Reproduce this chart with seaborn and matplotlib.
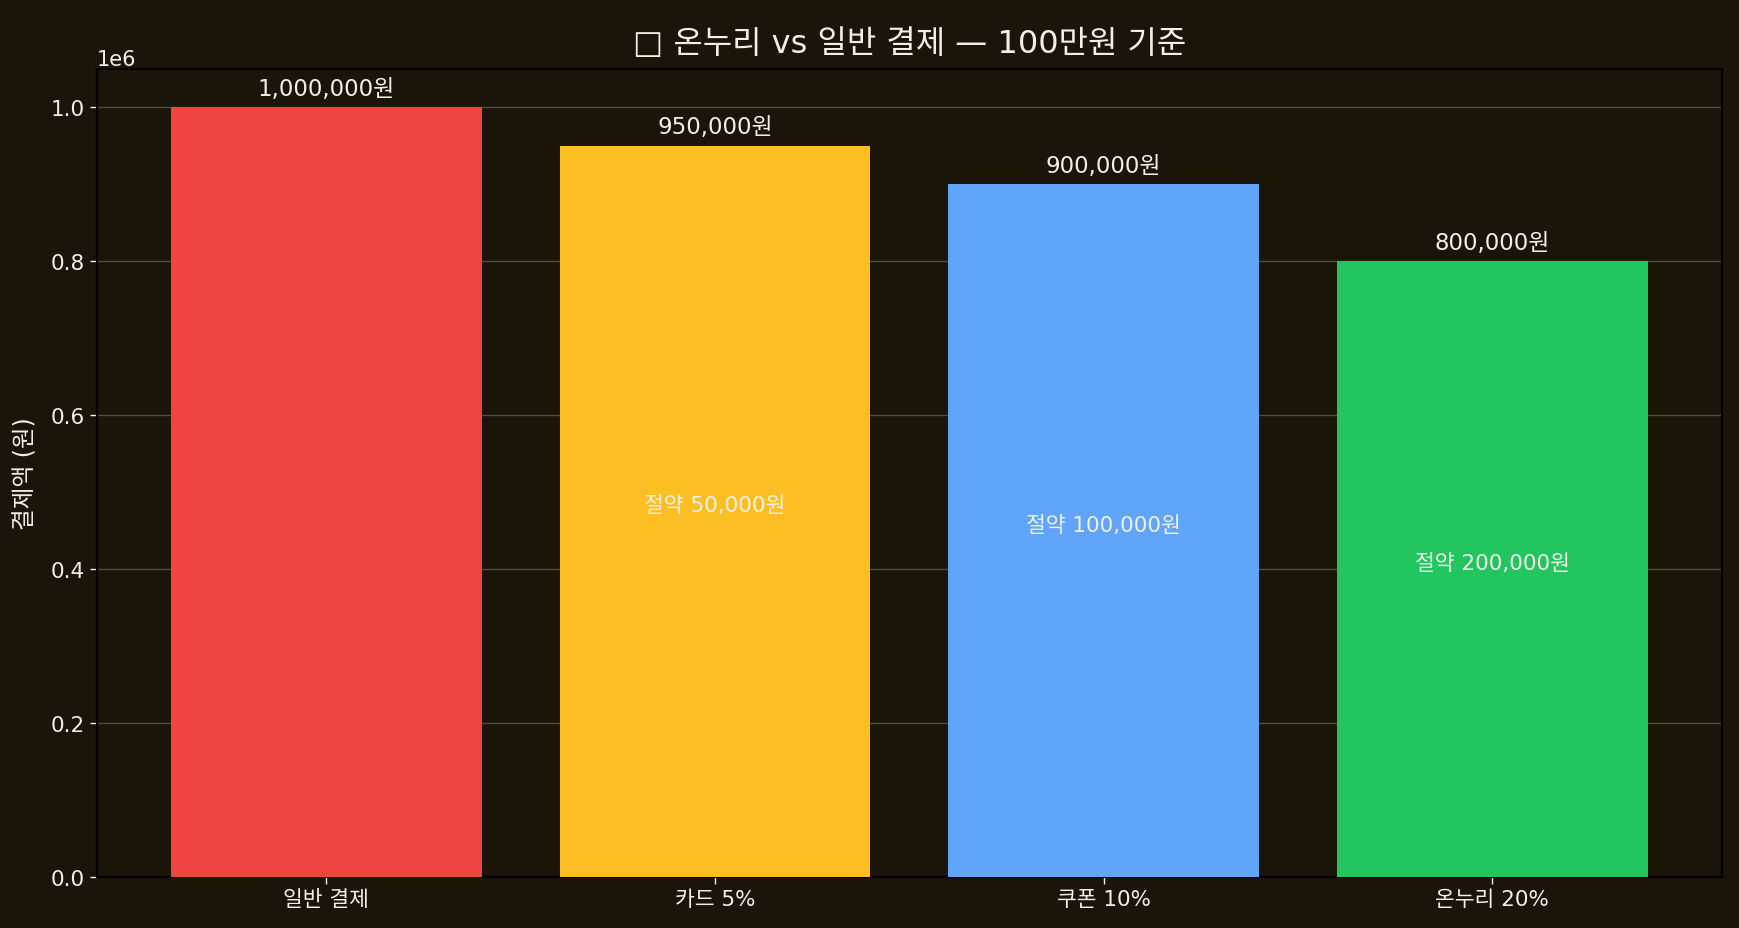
import seaborn as sns
import matplotlib.pyplot as plt
import pandas as pd

# 결제 방식별 100만원 기준 실제 결제액
methods = ['일반 결제', '카드 5%', '쿠폰 10%', '온누리 20%']
amounts = [1000000, 950000, 900000, 800000]
savings = [0, 50000, 100000, 200000]
colors = ['#ef4444', '#fbbf24', '#60a5fa', '#22c55e']

bg = '#1a1409'
fg = '#f2efe8'

sns.set_style('dark')
plt.rcParams['font.family'] = ['DejaVu Sans', 'Noto Sans CJK KR']
plt.rcParams['axes.unicode_minus'] = False

df = pd.DataFrame({'method': methods, 'amount': amounts})

fig = plt.figure(figsize=(17.39, 9.29), dpi=100, facecolor=bg)
ax = fig.add_axes([0.0558, 0.0549, 0.9342, 0.8698])
ax.set_facecolor(bg)

sns.barplot(data=df, x='method', y='amount', hue='method', palette=colors,
            legend=False, width=0.8, saturation=1, edgecolor='none',
            linewidth=0, ax=ax, zorder=3)
ax.set_xlim(-0.59, 3.59)
ax.set_ylim(0, 1050000)

for i, (amt, sav) in enumerate(zip(amounts, savings)):
    ax.text(i, amt + 10000, f'{amt:,}원', ha='center', va='bottom',
            color=fg, fontsize=16.5, zorder=4)
    if sav > 0:
        ax.text(i, amt / 2 + 8000, f'절약 {sav:,}원', ha='center', va='center',
                color=fg, fontsize=15.5, zorder=4)

ax.set_title('□ 온누리 vs 일반 결제 — 100만원 기준', color=fg, fontsize=23, pad=12)
ax.set_ylabel('결제액 (원)', color=fg, fontsize=17, labelpad=10)
ax.set_xlabel('')

ax.yaxis.grid(True, color='#8a857a', alpha=0.5, linewidth=1)
ax.xaxis.grid(False)
ax.set_axisbelow(True)
for s in ax.spines.values():
    s.set_visible(True)
    s.set_color('black')
    s.set_linewidth(1.5)
ax.tick_params(colors=fg, labelsize=15.5, length=5, width=1, left=True, bottom=True)
ax.yaxis.get_offset_text().set_color(fg)
ax.yaxis.get_offset_text().set_fontsize(15)

fig.savefig('out.png', facecolor=bg)
